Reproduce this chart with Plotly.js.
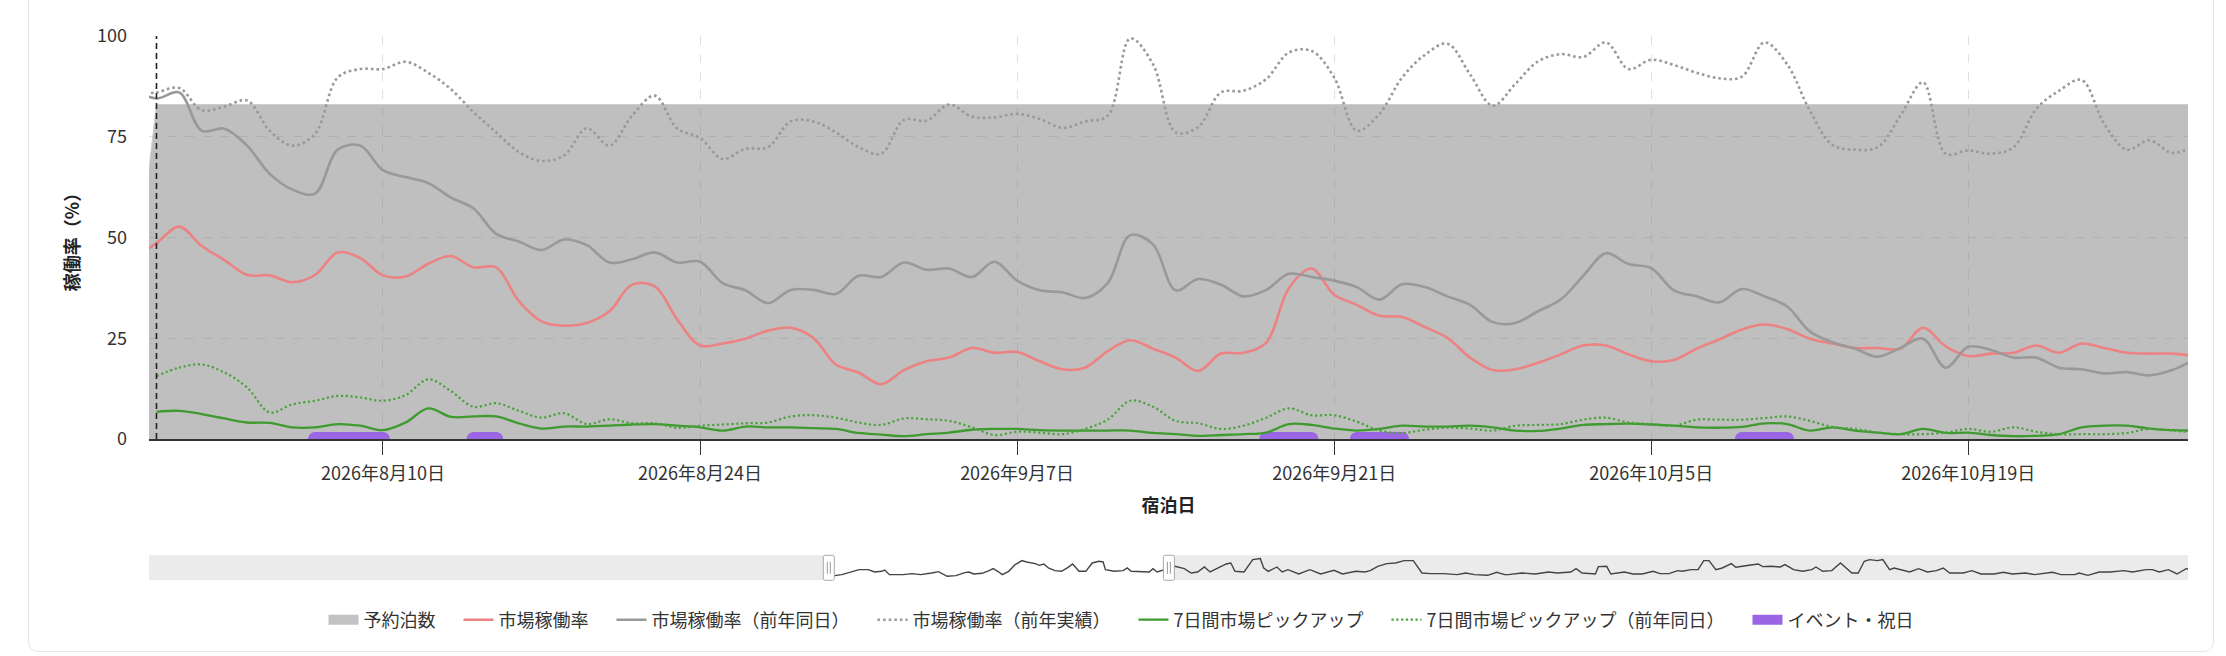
<!DOCTYPE html>
<html><head><meta charset="utf-8">
<script src="https://cdn.plot.ly/plotly-3.0.1.min.js"></script>
<style>
html,body{margin:0;padding:0;background:#fff;overflow:hidden;}
#chart{width:2226px;height:656px;}
#card{position:absolute;left:28px;top:-20px;width:2184px;height:670px;border:1.5px solid #e6e6e6;border-radius:10px;pointer-events:none;}
</style></head><body>
<div id="chart"></div><div id="card"></div>
<script>
// ---------- data (daily, index 0 = 2026-07-30) ----------
const baseDate = '2026-07-30';
const bookings = [35,83,83,83,83,83,83,83,83,83,83,83,83,83,83,83,83,83,83,83,83,83,83,83,83,83,83,83,83,83,83,83,83,83,83,83,83,83,83,83,83,83,83,83,83,83,83,83,83,83,83,83,83,83,83,83,83,83,83,83,83,83,83,83,83,83,83,83,83,83,83,83,83,83,83,83,83,83,83,83,83,83,83,83,83,83,83,83,83,83,83,83];
const marketOcc = [45.0,48.6,52.7,47.9,44.4,40.7,40.6,38.9,40.7,46.3,44.9,40.6,40.3,43.5,45.4,42.6,42.6,34.2,29.2,28.1,28.8,31.7,38.3,37.9,29.6,23.2,23.7,24.9,26.9,27.6,25.1,18.5,16.5,13.6,17.1,19.3,20.2,22.6,21.4,21.6,19.3,17.3,17.7,21.8,24.5,22.4,20.2,16.9,21.2,21.4,23.9,37.4,42.3,35.8,33.3,30.6,30.3,27.8,25.1,20.2,17.1,17.3,18.9,21.0,23.2,23.2,21.0,19.3,19.6,22.4,24.7,27.2,28.4,27.3,24.9,23.7,22.6,22.6,22.4,27.6,23.0,20.6,21.2,21.4,23.2,21.4,23.7,22.6,21.4,21.2,21.2,20.6];
const marketOccLYSameDay = [86.5,84.5,86.0,76.5,77.0,72.8,65.8,61.9,60.9,71.8,72.8,66.7,65.0,63.5,59.9,57.2,50.9,49.0,46.9,49.5,48.1,43.8,44.6,46.3,43.8,44.0,38.7,36.9,33.7,37.0,37.0,36.0,40.5,40.2,43.8,42.0,42.3,40.2,44.0,39.3,36.9,36.4,35.0,38.7,50.6,48.3,36.9,39.7,38.3,35.4,37.0,41.0,40.2,39.3,37.7,34.6,38.4,37.7,35.4,33.3,29.0,28.8,31.7,34.6,40.5,46.1,43.4,42.4,36.9,35.4,33.9,37.2,35.4,32.9,26.7,24.0,22.4,20.4,22.6,24.9,17.7,22.9,22.1,20.2,20.2,17.7,17.3,16.3,16.6,15.8,17.1,19.8];
const marketOccLYActual = [85.5,86.0,87.1,81.6,82.5,84.0,76.5,72.8,75.7,89.7,91.8,91.8,93.6,90.9,86.8,81.1,76.1,71.2,69.0,70.4,77.1,72.8,80.2,85.2,77.0,74.7,69.5,72.0,72.4,78.8,78.8,76.1,72.4,70.8,79.2,79.0,83.0,80.0,79.8,80.7,79.4,77.2,78.8,80.2,99.4,93.0,76.1,77.4,86.0,86.4,89.3,95.9,96.3,89.7,76.5,80.7,89.7,95.3,98.1,90.5,82.7,88.1,93.7,95.5,94.8,98.4,91.8,94.1,92.8,90.9,89.5,89.9,98.4,93.0,81.5,73.0,71.8,72.4,80.2,88.5,70.8,71.6,70.8,72.4,81.9,86.4,89.1,78.2,71.8,74.1,71.0,72.8];
const pickup7 = [null,6.75,7.0,6.2,5.1,4.1,4.0,2.9,2.9,3.7,3.3,2.2,4.1,7.6,5.5,5.6,5.6,3.9,2.6,3.1,3.1,3.3,3.6,3.7,3.3,2.9,2.1,3.1,2.9,2.9,2.7,2.5,1.5,1.1,0.7,1.2,1.6,2.3,2.5,2.5,2.2,2.1,2.1,2.1,2.1,1.5,1.2,0.8,1.0,1.2,1.6,3.7,3.5,2.6,2.1,2.5,3.3,3.1,3.1,3.3,2.9,2.1,2.0,2.6,3.5,3.7,3.8,3.6,3.3,2.9,2.8,3.0,3.9,3.7,2.1,2.9,2.1,1.6,1.2,2.5,1.5,1.6,1.0,0.7,0.8,1.2,2.9,3.3,3.3,2.6,2.2,2.1];
const pickup7LY = [null,15.6,17.7,18.5,16.5,12.8,6.6,8.6,9.5,10.7,10.3,9.5,10.9,14.8,11.9,8.0,8.9,7.0,5.3,6.4,3.7,4.9,3.9,3.9,2.8,3.3,3.6,3.9,4.1,5.6,5.9,5.3,4.1,3.5,5.1,4.9,4.5,2.9,1.0,1.8,1.6,1.2,2.5,4.8,9.5,8.0,4.5,3.9,2.5,3.3,5.3,7.6,5.9,5.9,4.3,2.1,1.5,2.3,2.8,2.6,2.1,3.3,3.5,3.7,4.8,5.3,4.1,3.7,3.3,4.8,4.8,4.8,5.2,5.6,4.5,3.0,2.5,1.6,1.2,1.2,1.6,2.5,1.8,2.9,1.8,1.2,1.2,1.2,1.5,2.5,2.1,1.6];

const eventStart = ['2026-08-07','2026-08-14','2026-09-18','2026-09-22','2026-10-09'];
const eventEnd   = ['2026-08-10','2026-08-15','2026-09-20','2026-09-24','2026-10-11'];
const todayDate = '2026-07-31';

const tickDates  = ['2026-08-10','2026-08-24','2026-09-07','2026-09-21','2026-10-05','2026-10-19'];
const tickLabels = ['2026年8月10日','2026年8月24日','2026年9月7日','2026年9月21日','2026年10月5日','2026年10月19日'];

const seriesNames = ['予約泊数','市場稼働率','市場稼働率（前年同日）','市場稼働率（前年実績）','7日間市場ピックアップ','7日間市場ピックアップ（前年同日）','イベント・祝日'];

// data-zoom slider shadow (day offset from baseDate, value)
const shadowDay = [0.7,2.2,4.1,6.4,8.7,11.1,12.8,14.6,15.5,16.7,20.4,22.7,25.0,27.9,29.7,32.0,34.3,36.7,37.8,39.0,41.3,43.1,44.2,45.4,46.6,48.3,50.0,51.8,53.0,55.3,56.4,57.6,58.8,60.5,62.3,64.0,65.2,66.0,66.9,68.7,70.4,72.2,73.3,73.9,76.2,78.6,79.7,80.7,83.2,85.5,86.5,87.6,90.0,92.3,94.8,96.6,98.3,100.1,101.6,103.6,105.9,107.1,108.2,110.6,112.9,114.9,115.8,117.0,119.3,120.7,122.2,125.1,128.0,130.9,134.4,136.7,140.2,142.6,144.0,146.0,148.4,150.7,153.0,155.4,157.7,160.0,163.5,167.0,169.3,171.6,175.1,177.5,179.6,180.6,184.1,187.7,191.2,193.6,197.1,198.5,200.1,203.6,204.4,206.6,207.7,211.3,213.6,216.0,218.9,220.7,223.1,225.4,226.6,229.0,230.8,232.3,233.7,235.5,237.2,239.6,240.8,244.3,246.7,247.9,250.2,252.6,253.8,256.1,258.5,260.9,262.0,263.8,266.2,268.5,270.1,271.5,273.2,274.8,276.2,278.3,279.7,281.5,282.7,284.5,286.8,289.2,291.5,293.9,295.7,297.4,301.0,303.3,305.7,309.2,311.6,314.0,317.5,319.9,324.6,326.9,330.5,331.7,334.0,337.0,339.9,343.5,345.8,349.4,351.1,352.9,355.3,357.6,360.0,361.2];
const shadowVal = [18.7,18.7,22.7,33.3,42.7,42.7,33.3,36.0,41.3,22.7,22.7,26.7,22.7,29.3,34.7,16.0,18.7,30.7,33.3,25.3,28.0,38.7,46.7,36.0,22.7,36.0,62.7,78.7,73.3,66.7,60.0,65.3,49.3,38.7,36.0,52.0,65.3,52.0,36.0,36.0,69.3,76.0,73.3,42.7,36.0,38.7,49.3,36.0,33.3,33.3,46.7,33.3,45.0,56.0,46.7,29.3,33.3,53.3,33.3,46.7,65.3,69.3,36.0,33.3,82.7,86.7,49.3,36.0,53.3,33.3,42.7,25.3,42.7,25.3,40.0,25.3,36.0,33.3,38.7,56.0,66.7,69.3,78.7,78.7,29.3,26.7,26.7,22.7,29.3,22.7,20.0,32.0,22.7,22.7,29.3,25.3,33.3,29.3,33.3,46.7,29.3,25.3,54.7,56.0,25.3,33.3,25.3,25.3,36.0,26.7,26.7,38.7,36.0,42.7,42.7,78.7,78.7,42.7,49.3,66.7,52.0,60.0,65.3,54.7,56.0,53.3,62.7,42.7,36.0,42.7,53.3,36.0,38.7,69.3,49.3,29.3,29.3,76.0,82.7,78.7,82.7,42.7,49.3,42.7,33.3,46.7,33.3,38.7,49.3,29.3,29.3,38.7,25.3,25.3,32.0,25.3,29.3,22.7,32.0,22.7,22.7,29.3,20.0,33.3,33.3,38.7,33.3,42.7,42.7,33.3,42.7,25.3,46.7,42.7];

// view windows (day offsets from baseDate)
const viewStartDay = 0.67, viewEndDay = 90.7;
const sliderStartDay = -179.3, sliderEndDay = 360.5;

// ---------- helpers ----------
const baseMs = Date.parse(baseDate + 'T00:00:00Z');
function dayToDate(d){ return new Date(baseMs + d*86400000).toISOString().replace('T',' ').slice(0,19); }
const dates = marketOcc.map((_, i) => dayToDate(i));
const mainRange = [dayToDate(viewStartDay), dayToDate(viewEndDay)];
const sliderRange = [dayToDate(sliderStartDay), dayToDate(sliderEndDay)];

const C = {
  area:'rgba(128,128,128,0.5)', areaLine:'rgba(205,205,205,1)', areaIcon:'#c2c2c2',
  red:'#ec8282', gray:'#999999', green:'#3f9a2f', green2:'#4aa23c', purple:'#9a66e4'
};
const PAD = '\u2003';  // legend spacer
function legName(i){ return i < seriesNames.length - 1 ? seriesNames[i] + PAD : seriesNames[i]; }

const evX = [], evY = [];
eventStart.forEach((s, i) => { evX.push(s, eventEnd[i], null); evY.push(0, 0, null); });

const traces = [
  {x:dates, y:bookings, name:seriesNames[0], type:'scatter', mode:'lines', fill:'tozeroy', showlegend:false,
   fillcolor:C.area, line:{color:C.areaLine, width:1}, hoverinfo:'skip'},
  {x:evX, y:evY, name:seriesNames[6], type:'scatter', mode:'lines+markers', showlegend:false,
   line:{color:C.purple, width:14}, marker:{color:C.purple, size:14}, connectgaps:false, hoverinfo:'skip'},
  {x:dates, y:marketOcc, name:legName(1), legendrank:2, type:'scatter', mode:'lines',
   line:{color:C.red, width:2.6, shape:'spline', smoothing:1}},
  {x:dates, y:marketOccLYSameDay, name:legName(2), legendrank:3, type:'scatter', mode:'lines',
   line:{color:C.gray, width:2.6, shape:'spline', smoothing:1}},
  {x:dates, y:marketOccLYActual, name:legName(3), legendrank:4, type:'scatter', mode:'lines',
   line:{color:C.gray, width:2.6, shape:'spline', smoothing:1, dash:'2.6px,3px'}},
  {x:dates, y:pickup7, name:legName(4), legendrank:5, type:'scatter', mode:'lines',
   line:{color:C.green, width:2.3, shape:'spline', smoothing:1}},
  {x:dates, y:pickup7LY, name:legName(5), legendrank:6, type:'scatter', mode:'lines',
   line:{color:C.green2, width:2.2, shape:'spline', smoothing:1, dash:'2.2px,2.6px'}},
  // legend-only entries
  {x:[null], y:[null], name:legName(0), legendrank:1, type:'scatter', mode:'lines',
   line:{color:C.areaIcon, width:14}},
  {x:[null], y:[null], name:legName(6), legendrank:7, type:'scatter', mode:'lines',
   line:{color:C.purple, width:14}},
  {x:[todayDate, todayDate], y:[0, 100], type:'scatter', mode:'lines', showlegend:false,
   line:{color:'#222', width:1.6, dash:'6px,4px'}, hoverinfo:'skip'},
  {x:shadowDay.map(dayToDate), y:shadowVal, xaxis:'x2', yaxis:'y2', type:'scatter', mode:'lines',
   showlegend:false, line:{color:'#444', width:1.4}, hoverinfo:'skip'}
];

function roundRect(x0,y0,x1,y1,r){
  return `M${x0+r},${y0} L${x1-r},${y0} Q${x1},${y0} ${x1},${y0+r} L${x1},${y1-r} Q${x1},${y1} ${x1-r},${y1} L${x0+r},${y1} Q${x0},${y1} ${x0},${y1-r} L${x0},${y0+r} Q${x0},${y0} ${x0+r},${y0} Z`;
}
function handle(anchor){
  return [
    {type:'path', xref:'x2', xsizemode:'pixel', xanchor:anchor, yref:'y2 domain', ysizemode:'pixel', yanchor:0.5,
     path:roundRect(-5.5,-12.5,5.5,12.5,2), fillcolor:'#ffffff', line:{color:'#a8a8a8', width:1}, layer:'above'},
    {type:'path', xref:'x2', xsizemode:'pixel', xanchor:anchor, yref:'y2 domain', ysizemode:'pixel', yanchor:0.5,
     path:'M-1.5,-6 L-1.5,6 M1.5,-6 L1.5,6', line:{color:'#9a9a9a', width:1}, layer:'above'}
  ];
}

const shapes = [
  {type:'rect', xref:'x2', yref:'y2 domain', x0:sliderRange[0], x1:mainRange[0], y0:0, y1:1,
   fillcolor:'#ebebeb', line:{width:0}, layer:'below'},
  {type:'rect', xref:'x2', yref:'y2 domain', x0:mainRange[1], x1:sliderRange[1], y0:0, y1:1,
   fillcolor:'#ebebeb', line:{width:0}, layer:'below'},
  ...handle(mainRange[0]), ...handle(mainRange[1])
];

const layout = {
  width:2226, height:656,
  margin:{l:149, r:38, t:36, b:20},
  paper_bgcolor:'#ffffff', plot_bgcolor:'rgba(0,0,0,0)',
  font:{family:'"Noto Sans CJK JP", "Noto Sans", sans-serif', size:18, color:'#333'},
  showlegend:true,
  legend:{orientation:'h', x:0.4767, xanchor:'center', y:0.0267, yanchor:'middle',
          font:{size:18, color:'#333'}, itemwidth:30, traceorder:'normal', bgcolor:'rgba(0,0,0,0)'},
  xaxis:{type:'date', range:mainRange, domain:[0,1], anchor:'y', tickvals:tickDates, ticktext:tickLabels,
         ticks:'outside', ticklen:14, tickwidth:1, tickcolor:'#333', showline:true, linecolor:'#333', linewidth:1.5,
         showgrid:true, gridcolor:'#e0e0e0', griddash:'dash', gridwidth:1, zeroline:false, automargin:false,
         ticklabelstandoff:4, tickfont:{size:18, color:'#333'},
         title:{text:'宿泊日', font:{size:18, color:'#222', weight:'bold'}, standoff:15}},
  yaxis:{domain:[0.3283,1], anchor:'x', range:[0,100], tickvals:[0,25,50,75,100],
         showgrid:true, gridcolor:'#e0e0e0', griddash:'dash', gridwidth:1, zeroline:false, showline:false,
         ticks:'', ticklabelstandoff:21, automargin:false, tickfont:{size:18, color:'#333'},
         title:{text:'稼働率（%）', font:{size:18, color:'#222', weight:'bold'}, standoff:12}},
  xaxis2:{type:'date', domain:[0,1], anchor:'y2', range:sliderRange, visible:false, fixedrange:true},
  yaxis2:{domain:[0.0928,0.1345], anchor:'x2', range:[0,100], visible:false, fixedrange:true},
  shapes:shapes
};

Plotly.newPlot('chart', traces, layout, {staticPlot:true, displayModeBar:false});
</script>
</body></html>
